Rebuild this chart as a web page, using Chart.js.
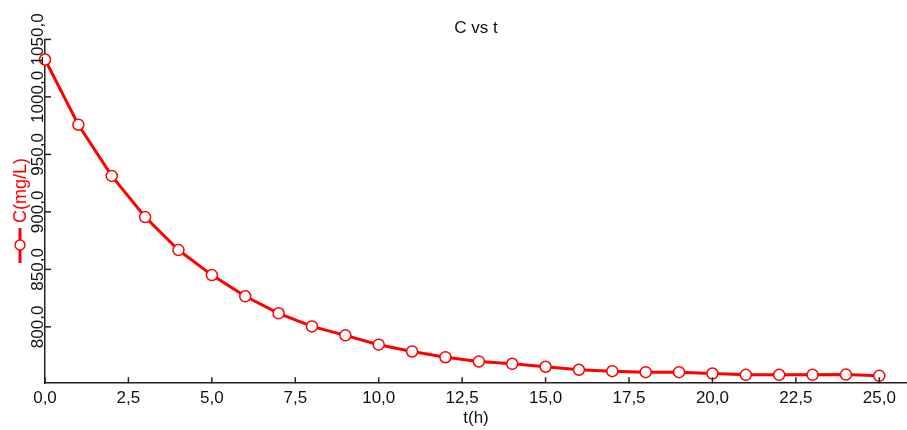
<!DOCTYPE html>
<html>
<head>
<meta charset="utf-8">
<script src="https://cdn.jsdelivr.net/npm/chart.js@4.4.0/dist/chart.umd.min.js"></script>
<style>
  html, body { margin: 0; padding: 0; background: #fff; }
  #cadre { width: 907px; height: 430px; }
</style>
</head>
<body>
<div id="cadre"><canvas id="graphe"></canvas></div>
<script>
// donnees
var temps = [0,1,2,3,4,5,6,7,8,9,10,11,12,13,14,15,16,17,18,19,20,21,22,23,24,25];
var concentration = [1032.5,975.8,931.3,895.5,866.8,845.0,826.6,811.8,800.4,792.6,
  784.5,778.6,773.6,769.9,767.9,765.3,762.7,761.5,760.6,760.6,759.4,758.3,758.3,758.3,758.5,757.4];
var xTicks = [0,2.5,5,7.5,10,12.5,15,17.5,20,22.5,25];
var yTicks = [800,850,900,950,1000,1050];

var police = 'Arial, "Liberation Sans", sans-serif';
var rouge = '#ff0000';

function virgule(v) {
  return v.toFixed(1).replace('.', ',');
}

// graduations interieures, etiquettes Y tournees, legende verticale
var decor = {
  id: 'decor',
  afterDraw: function (chart) {
    var ctx = chart.ctx;
    var sx = chart.scales.x, sy = chart.scales.y;
    var area = chart.chartArea;
    ctx.save();
    ctx.strokeStyle = '#222';
    ctx.lineWidth = 1.5;
    xTicks.forEach(function (v) {
      var px = sx.getPixelForValue(v);
      ctx.beginPath();
      ctx.moveTo(px, area.bottom);
      ctx.lineTo(px, area.bottom - 6);
      ctx.stroke();
    });
    ctx.fillStyle = '#111';
    ctx.font = '17px ' + police;
    ctx.textAlign = 'center';
    ctx.textBaseline = 'alphabetic';
    yTicks.forEach(function (v) {
      var py = sy.getPixelForValue(v);
      ctx.beginPath();
      ctx.moveTo(area.left, py);
      ctx.lineTo(area.left + 6, py);
      ctx.stroke();
      ctx.save();
      ctx.translate(area.left - 2, py);
      ctx.rotate(-Math.PI / 2);
      ctx.fillText(virgule(v), 0, 0);
      ctx.restore();
    });
    // legende
    var lx = 20, ly = 245;
    ctx.strokeStyle = rouge;
    ctx.lineWidth = 3;
    ctx.beginPath();
    ctx.moveTo(lx, ly + 18);
    ctx.lineTo(lx, ly - 17);
    ctx.stroke();
    ctx.beginPath();
    ctx.arc(lx, ly, 5, 0, Math.PI * 2);
    ctx.fillStyle = '#fff';
    ctx.fill();
    ctx.lineWidth = 1.5;
    ctx.stroke();
    ctx.save();
    ctx.translate(lx + 6, ly - 22);
    ctx.rotate(-Math.PI / 2);
    ctx.fillStyle = rouge;
    ctx.font = '18px ' + police;
    ctx.textAlign = 'left';
    ctx.fillText(chart.data.datasets[0].label, 0, 0);
    ctx.restore();
    ctx.restore();
  }
};

var graphe = new Chart(document.getElementById('graphe'), {
  type: 'line',
  data: {
    datasets: [{
      label: 'C(mg/L)',
      data: temps.map(function (t, i) { return { x: t, y: concentration[i] }; }),
      borderColor: rouge,
      borderWidth: 3,
      pointRadius: 5.5,
      pointBorderWidth: 1.5,
      pointBackgroundColor: '#fff',
      pointBorderColor: rouge,
      tension: 0,
      clip: false
    }]
  },
  options: {
    responsive: true,
    maintainAspectRatio: false,
    animation: false,
    layout: { autoPadding: false, padding: { left: 45, right: 0, top: 0, bottom: 1 } },
    plugins: {
      legend: { display: false },
      tooltip: { enabled: false },
      title: {
        display: true,
        text: 'C vs t',
        color: '#111',
        font: { family: police, size: 17, weight: 'normal' },
        padding: { top: 18, bottom: 1 }
      }
    },
    scales: {
      x: {
        type: 'linear',
        min: 0,
        max: 25.83,
        afterBuildTicks: function (s) { s.ticks = xTicks.map(function (v) { return { value: v }; }); },
        grid: { display: false, drawTicks: false },
        border: { display: true, color: '#222', width: 1.5 },
        ticks: {
          color: '#111',
          padding: 5,
          maxRotation: 0,
          font: { family: police, size: 17 },
          callback: function (v) { return virgule(v); }
        },
        title: {
          display: true,
          text: 't(h)',
          color: '#111',
          font: { family: police, size: 17 },
          padding: { top: -5, bottom: 0 }
        }
      },
      y: {
        type: 'linear',
        min: 751,
        max: 1050,
        afterBuildTicks: function (s) { s.ticks = yTicks.map(function (v) { return { value: v }; }); },
        grid: { display: false, drawTicks: false },
        border: { display: true, color: '#222', width: 1.5 },
        ticks: { display: false }
      }
    }
  },
  plugins: [decor]
});
</script>
</body>
</html>
